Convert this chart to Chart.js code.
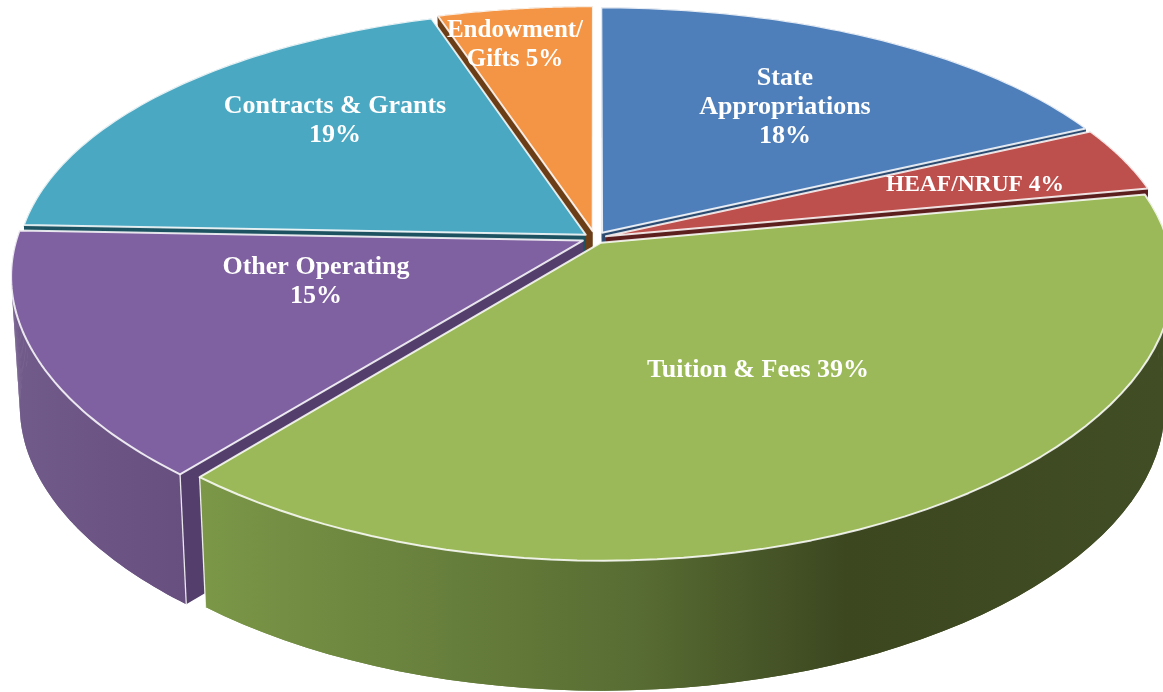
<!DOCTYPE html>
<html>
<head>
<meta charset="utf-8">
<script src="https://cdn.jsdelivr.net/npm/chart.js@4"></script>
<style>
  html, body { margin: 0; padding: 0; background: #fff; }
  canvas { display: block; filter: blur(0.4px); }
</style>
</head>
<body>
<canvas id="pie" width="1163" height="692"></canvas>
<script>
// values, clockwise from 12 o'clock
const categories = ['State Appropriations', 'HEAF/NRUF', 'Tuition & Fees', 'Other Operating', 'Contracts & Grants', 'Endowment/Gifts'];
const shares = [18, 4, 39, 14.6, 19.4, 5];
const explode = [8, 7, 7, 8, 7, 9];
const topColors = ['#4f7fba', '#bd4f4c', '#9bb958', '#7f60a0', '#4aa8c2', '#f39545'];
const cutColors = ['#2b4a70', '#5c1f1e', '#5f7434', '#533e6c', '#1d5261', '#6b3e17'];
// text blocks are laid out by hand, the way they were placed in the original
const labelLines = [['State', 'Appropriations'], [], [], ['Other Operating'], ['Contracts & Grants'], ['Endowment/']];
const labelAt = [[785, 78], [975, 185], [758, 370], [316, 267], [335, 106], [515, 31]];
const labelSize = [26, 23.5, 26, 26, 26, 25];

// tilted disc: a plane seen in perspective, low = the underside
const view = { cx: 595, cy: 238, bx: 566, by: 264, px: 0.13, py: 0.1646, depth: 130, shrink: 0.985 };

function project(u, v, low) {
  const s = low ? view.shrink : 1;
  return [
    view.cx + view.bx * u * s / (1 - view.px * v),
    view.cy + view.by * v / (1 - view.py * v) + (low ? view.depth : 0)
  ];
}

function wallFill(ctx, i, fallback) {
  if (i === 2) {
    const g = ctx.createLinearGradient(200, 0, 1163, 0);
    g.addColorStop(0, '#7b9747');
    g.addColorStop(0.2, '#6b843e');
    g.addColorStop(0.45, '#586d33');
    g.addColorStop(0.67, '#3c4720');
    g.addColorStop(1, '#414d24');
    return g;
  }
  if (i === 3) {
    const g = ctx.createLinearGradient(15, 0, 190, 0);
    g.addColorStop(0, '#715b8a');
    g.addColorStop(1, '#674f80');
    return g;
  }
  return fallback;
}

function poly(ctx, pts) {
  ctx.beginPath();
  pts.forEach((p, n) => n ? ctx.lineTo(p[0], p[1]) : ctx.moveTo(p[0], p[1]));
  ctx.closePath();
}

function drawSlice(ctx, el, i) {
  const arc = el.getProps(['startAngle', 'endAngle', 'outerRadius']);
  const e = el.options.offset / arc.outerRadius;
  const mid = (arc.startAngle + arc.endAngle) / 2;
  const ox = Math.cos(mid) * e, oy = Math.sin(mid) * e;
  const steps = 60;
  const rimAt = low => {
    const pts = [];
    for (let n = 0; n <= steps; n++) {
      const a = arc.startAngle + (arc.endAngle - arc.startAngle) * n / steps;
      pts.push(project(Math.cos(a) + ox, Math.sin(a) + oy, low));
    }
    return pts;
  };
  const rimTop = rimAt(false), rimLow = rimAt(true);
  const apexTop = project(ox, oy, false), apexLow = project(ox, oy, true);

  // cut faces first, then the outer wall, the top face last
  ctx.fillStyle = cutColors[i];
  poly(ctx, [apexTop, rimTop[0], rimLow[0], apexLow]);
  ctx.fill();
  poly(ctx, [apexTop, rimTop[steps], rimLow[steps], apexLow]);
  ctx.fill();

  ctx.fillStyle = wallFill(ctx, i, cutColors[i]);
  poly(ctx, rimTop.concat(rimLow.slice().reverse()));
  ctx.fill();
  // strips too, so the wall also fills the tangent at the far left and right
  for (let n = 0; n < steps; n++) {
    poly(ctx, [rimTop[n], rimTop[n + 1], rimLow[n + 1], rimLow[n]]);
    ctx.fill();
  }

  // white seam only on the corners at the front of the disc
  ctx.strokeStyle = 'rgba(255,255,255,0.85)';
  ctx.lineWidth = 1.3;
  [[0, arc.startAngle], [steps, arc.endAngle]].forEach(([n, a]) => {
    if (Math.sin(a) < 0.3) return;
    ctx.beginPath();
    ctx.moveTo(rimTop[n][0], rimTop[n][1]);
    ctx.lineTo(rimLow[n][0], rimLow[n][1]);
    ctx.stroke();
  });

  ctx.fillStyle = topColors[i];
  poly(ctx, [apexTop].concat(rimTop));
  ctx.fill();
  ctx.lineWidth = 2;
  ctx.stroke();
}

const tiltedPie = {
  id: 'tiltedPie',
  beforeDatasetDraw(chart, args) {
    const ctx = chart.ctx;
    const arcs = args.meta.data;
    // painter's order, back of the disc first
    const order = arcs.map((el, i) => i).sort((a, b) => {
      const midOf = el => Math.sin((el.startAngle + el.endAngle) / 2);
      return midOf(arcs[a]) - midOf(arcs[b]);
    });
    ctx.save();
    ctx.lineJoin = 'round';
    order.forEach(i => drawSlice(ctx, arcs[i], i));
    ctx.restore();
    return false;
  },
  afterDatasetsDraw(chart) {
    const ctx = chart.ctx;
    ctx.save();
    ctx.fillStyle = '#fff';
    ctx.textAlign = 'center';
    ctx.textBaseline = 'middle';
    categories.forEach((name, i) => {
      const pct = Math.round(shares[i]) + '%';
      const [x, y] = labelAt[i];
      let lines;
      if (i === 1 || i === 2) lines = [name + ' ' + pct];
      else if (i === 5) lines = [labelLines[i][0], 'Gifts ' + pct];
      else lines = labelLines[i].concat(pct);
      ctx.font = 'bold ' + labelSize[i] + 'px "Liberation Serif"';
      lines.forEach((t, n) => ctx.fillText(t, x, y + n * 29));
    });
    ctx.restore();
  }
};

new Chart(document.getElementById('pie'), {
  type: 'pie',
  data: {
    labels: categories,
    datasets: [{ data: shares, backgroundColor: topColors, borderWidth: 0, offset: explode, hoverOffset: 0 }]
  },
  options: {
    responsive: false,
    animation: false,
    events: [],
    plugins: { legend: { display: false }, tooltip: { enabled: false } }
  },
  plugins: [tiltedPie]
});
</script>
</body>
</html>
